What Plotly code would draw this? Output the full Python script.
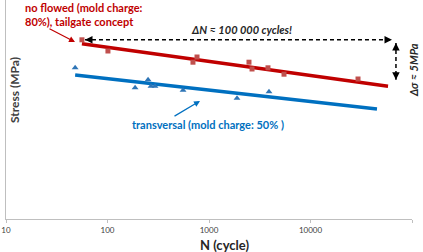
import numpy as np
import plotly.graph_objects as go

# ---- data ----
red_N = [56, 101, 695, 762, 2477, 2654, 3811, 5483, 29380]
red_S = [22.4, 21.0, 19.6, 20.25, 19.6, 18.75, 18.9, 18.1, 17.5]
red_fit_N = [56, 58070]
red_fit_S = [21.9, 16.6]

blue_N = [48, 187, 251, 268, 294, 555, 1888, 3899]
blue_S = [18.9, 16.4, 17.4, 16.6, 16.6, 16.1, 15.1, 15.9]
blue_fit_N = [48, 45180]
blue_fit_S = [18.0, 13.75]

dN_arrow_N = [60, 63500]
dN_arrow_S = [22.4, 22.4]
dS_arrow_N = [69500, 69500]
dS_arrow_S = [22.0, 17.4]

x_ticks = [10, 100, 1000, 10000, 100000]
x_ticktext = ["10", "100", "1000", "10000", "100000"]

RED_LINE = "#C00000"
RED_MK = "#C0504D"
BLUE_LINE = "#0070C0"
BLUE_MK = "#2E75B6"
FONT = "Lato"

W, H = 423, 252
L, R, T, B = 6, 11, 0, 33
PW, PH = W - L - R, H - T - B

def px(xp):
    return (xp - L) / PW

def py(yp):
    return (H - B - yp) / PH

fig = go.Figure()
fig.add_trace(go.Scatter(x=red_fit_N, y=red_fit_S, mode="lines",
                         line=dict(color=RED_LINE, width=3.5), hoverinfo="skip"))
fig.add_trace(go.Scatter(x=blue_fit_N, y=blue_fit_S, mode="lines",
                         line=dict(color=BLUE_LINE, width=3.5), hoverinfo="skip"))
fig.add_trace(go.Scatter(x=red_N, y=red_S, mode="markers",
                         marker=dict(symbol="square", size=5, color=RED_MK)))
fig.add_trace(go.Scatter(x=blue_N, y=blue_S, mode="markers",
                         marker=dict(symbol="triangle-up", size=6, color=BLUE_MK)))
fig.add_trace(go.Scatter(x=dN_arrow_N, y=dN_arrow_S, mode="lines",
                         line=dict(color="black", width=1.5, dash="4px,3px")))
fig.add_trace(go.Scatter(x=dS_arrow_N, y=dS_arrow_S, mode="lines",
                         line=dict(color="black", width=1.5, dash="4px,3px")))

ann = []
# arrow heads
for xv, yv, ax, ay in [(dN_arrow_N[0], dN_arrow_S[0], 8, 0),
                       (dN_arrow_N[1], dN_arrow_S[1], -8, 0),
                       (dS_arrow_N[0], dS_arrow_S[0], 0, 8),
                       (dS_arrow_N[1], dS_arrow_S[1], 0, -8)]:
    ann.append(dict(x=np.log10(xv), y=yv, xref="x", yref="y", text="",
                    showarrow=True, ax=ax, ay=ay, arrowhead=2, arrowsize=1,
                    arrowwidth=1.5, arrowcolor="black"))

def text_ann(x, y, text, size, color, xanchor="center", angle=0):
    return dict(x=px(x), y=py(y), xref="paper", yref="paper", xanchor=xanchor,
                yanchor="middle", align="left", text=text, showarrow=False,
                textangle=angle, font=dict(family=FONT, size=size, color=color))

ann.append(text_ann(241, 29, "<b><i>ΔN ≈ 100 000 cycles!</i></b>", 11, "#262626"))
ann.append(text_ann(413, 70, "<b><i>Δσ ≈ 5MPa</i></b>", 11, "#262626", angle=-90))
ann.append(text_ann(23, 14, "<b>no flowed (mold charge:<br>80%), tailgate concept</b>",
                    11, RED_LINE, xanchor="left"))
ann.append(dict(x=px(75), y=py(42), xref="paper", yref="paper", text="",
                showarrow=True, ax=-27, ay=-14, arrowhead=2, arrowsize=1,
                arrowwidth=1.2, arrowcolor=RED_LINE))
ann.append(text_ann(130, 124, "<b>transversal (mold charge: 50% )</b>", 11, BLUE_LINE,
                    xanchor="left"))
ann.append(dict(x=px(200), y=py(101), xref="paper", yref="paper", text="",
                showarrow=True, ax=-27, ay=16, arrowhead=2, arrowsize=1,
                arrowwidth=1.2, arrowcolor=BLUE_LINE))
ann.append(text_ann(14, 90, "<b>Stress (MPa)</b>", 12, "#404040", angle=-90))
ann.append(text_ann(225, 244.5, "<b>N (cycle)</b>", 13, "#262626"))

fig.update_layout(
    width=W, height=H,
    margin=dict(l=L, r=R, t=T, b=B),
    paper_bgcolor="white", plot_bgcolor="white",
    showlegend=False,
    annotations=ann,
    xaxis=dict(type="log", range=[1, 5], tickvals=x_ticks, ticktext=x_ticktext,
               showgrid=False, zeroline=False, showline=True, linecolor="#BFBFBF",
               linewidth=1, ticks="outside", ticklen=3, tickcolor="#BFBFBF",
               tickfont=dict(family=FONT, size=8, color="#404040")),
    yaxis=dict(range=[0, 27.375], showgrid=False, zeroline=False, showline=True,
               linecolor="#BFBFBF", linewidth=1, showticklabels=False, ticks=""),
)

fig.write_html("out.html")
